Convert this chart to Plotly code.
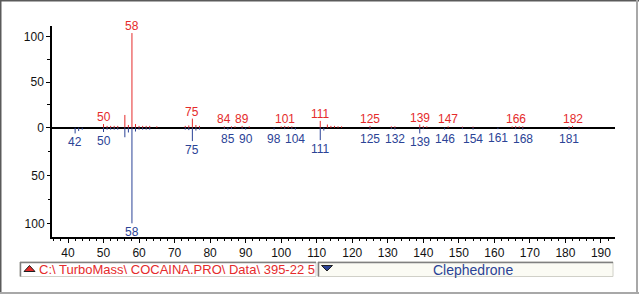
import plotly.graph_objects as go

# ---------------- data ----------------
# upper (reference/library hit, red) spectrum: m/z and relative intensity
red_mz = [50, 51, 52, 53, 54, 56, 57, 58, 59, 60, 61, 62, 63, 65,
          73, 74, 75, 76, 77, 84, 86, 87, 89, 91, 100, 101, 102, 103,
          111, 113, 114, 115, 116, 117, 125, 131, 132, 139, 140, 141,
          147, 151, 154, 165, 166, 167, 168, 181, 182]
red_int = [4, 2, 2, 2, 2, 14, 3, 104, 4, 2, 2, 2, 2, 1.5,
           2, 2.5, 10, 3, 2, 1.5, 1.5, 1.5, 2, 1.5, 1.5, 2, 1.5, 1.5,
           7.5, 3.5, 2, 2, 1.5, 1.5, 2, 1.5, 1.5, 3.5, 2, 1.5,
           1.5, 1.2, 1.2, 1.5, 2, 1.5, 1.5, 1.5, 2]

# lower (sample, blue) spectrum
blue_mz = [42, 43, 44, 50, 51, 52, 53, 54, 56, 57, 58, 59, 60, 61, 62, 63,
           73, 74, 75, 76, 77, 84, 85, 86, 89, 90, 98, 101, 103, 104,
           111, 112, 125, 131, 132, 139, 140, 146, 151, 154, 161, 166, 168, 181]
blue_int = [6, 3.5, 2, 4.5, 2, 2, 2, 2, 10, 5, 100, 4, 2, 2, 2, 2,
            2, 2.5, 14, 3, 2, 1.5, 2, 1.5, 1.5, 2, 2, 1.5, 1.5, 2,
            13, 3, 2, 1.5, 2, 6, 1.5, 2, 1.5, 2, 1.5, 1.5, 2, 2]

red_labels = [50, 58, 75, 84, 89, 101, 111, 125, 139, 147, 166, 182]
blue_labels = [42, 50, 58, 75, 85, 90, 98, 104, 111, 125, 132, 139, 146, 154, 161, 168, 181]

x_ticks = list(range(40, 200, 10))
y_up_ticks = [0, 50, 100]
y_up_minor = [25, 75]
y_dn_ticks = [50, 100]
y_dn_minor = [25, 75]

legend_file = "C:\\ TurboMass\\ COCAINA.PRO\\ Data\\ 395-22 5"
legend_name = "Clephedrone"

RED = "#e52b2b"
BLUE = "#2b4396"
FONT = "Liberation Sans, Arial, sans-serif"

# ---------------- geometry (px) ----------------
W, H = 639, 294
L, R, T, B = 52, 24, 26, 57
PW, PH = W - L - R, H - T - B


def px(x):
    return (x - L) / PW


def py(y):
    return (T + PH - y) / PH


def stems(mz, inten, sign):
    xs, ys = [], []
    for m, v in zip(mz, inten):
        xs += [m, m, None]
        ys += [0, sign * v, None]
    return xs, ys


fig = go.Figure()
rx, ry = stems(red_mz, red_int, 1)
bx, by = stems(blue_mz, blue_int, -1)
fig.add_trace(go.Scatter(x=rx, y=ry, mode="lines", line=dict(color=RED, width=1),
                         yaxis="y", hoverinfo="skip", showlegend=False))
fig.add_trace(go.Scatter(x=bx, y=by, mode="lines", line=dict(color=BLUE, width=1),
                         yaxis="y2", hoverinfo="skip", showlegend=False))

annotations = []
rlook = dict(zip(red_mz, red_int))
blook = dict(zip(blue_mz, blue_int))
for m in red_labels:
    annotations.append(dict(x=m, y=rlook.get(m, 0), xref="x", yref="y", text=str(m),
                            showarrow=False, yanchor="bottom", yshift=-2,
                            font=dict(family=FONT, size=12, color=RED)))
for m in blue_labels:
    annotations.append(dict(x=m, y=-blook.get(m, 0), xref="x", yref="y2", text=str(m),
                            showarrow=False, yanchor="top", yshift=0,
                            font=dict(family=FONT, size=12, color=BLUE)))

# legend texts
annotations.append(dict(x=px(37), y=py(269.5), xref="paper", yref="paper", text=legend_file,
                        showarrow=False, xanchor="left", yanchor="middle",
                        font=dict(family=FONT, size=13, color=RED)))
annotations.append(dict(x=px(472.5), y=py(269.5), xref="paper", yref="paper", text=legend_name,
                        showarrow=False, xanchor="center", yanchor="middle",
                        font=dict(family=FONT, size=14, color=BLUE)))

shapes = []
# legend boxes
for x0, x1, fill in [(20, 316, "#ffffff"), (318, 613, "#fbfbf4")]:
    shapes.append(dict(type="rect", xref="paper", yref="paper", x0=px(x0), x1=px(x1),
                       y0=py(276.5), y1=py(262), line=dict(color="#d0d0c8", width=1),
                       fillcolor=fill, layer="below"))
    shapes.append(dict(type="line", xref="paper", yref="paper", x0=px(x0), x1=px(x1),
                       y0=py(262.5), y1=py(262.5), line=dict(color="#808080", width=1.5)))
    shapes.append(dict(type="line", xref="paper", yref="paper", x0=px(x0 + 0.5), x1=px(x0 + 0.5),
                       y0=py(262), y1=py(276.5), line=dict(color="#808080", width=1.5)))


def tri(xa, xb, ytop, ybot, up):
    xm = (xa + xb) / 2
    if up:
        pts = [(xa, ybot), (xb, ybot), (xm, ytop)]
    else:
        pts = [(xa, ytop), (xb, ytop), (xm, ybot)]
    return "M " + " L ".join(f"{px(a):.5f},{py(b):.5f}" for a, b in pts) + " Z"


shapes.append(dict(type="path", xref="paper", yref="paper", path=tri(24, 35, 265.5, 271.5, True),
                   fillcolor=RED, line=dict(color="#202020", width=1)))
shapes.append(dict(type="path", xref="paper", yref="paper", path=tri(321.5, 332.5, 265.5, 271, False),
                   fillcolor=BLUE, line=dict(color="#202020", width=1)))

# window frame
shapes += [
    dict(type="line", xref="paper", yref="paper", x0=px(0.5), x1=px(0.5), y0=py(0), y1=py(294),
         line=dict(color="#5a5a5a", width=2)),
    dict(type="line", xref="paper", yref="paper", x0=px(0), x1=px(639), y0=py(0.5), y1=py(0.5),
         line=dict(color="#5a5a5a", width=2)),
    dict(type="line", xref="paper", yref="paper", x0=px(637), x1=px(637), y0=py(0), y1=py(294),
         line=dict(color="#a8a8a8", width=2)),
    dict(type="line", xref="paper", yref="paper", x0=px(0), x1=px(639), y0=py(293), y1=py(293),
         line=dict(color="#a8a8a8", width=2)),
]

# y-scales: upper 0.91 px/unit, lower 0.956 px/unit, zero at 127.7 px
zero_px = 127.7
up_s, dn_s = 0.91, 0.956
y1_range = [-(T + PH - zero_px) / up_s, (zero_px - T) / up_s]
y2_range = [-(T + PH - zero_px) / dn_s, (zero_px - T) / dn_s]

tickfont = dict(family=FONT, size=12, color="#111111")
fig.update_layout(
    width=W, height=H,
    margin=dict(l=L, r=R, t=T, b=B, pad=0),
    paper_bgcolor="white", plot_bgcolor="white",
    showlegend=False,
    xaxis=dict(range=[40 + (L - 68) / 3.553, 40 + (L + PW - 68) / 3.553],
               tickmode="array", tickvals=x_ticks, ticktext=[str(v) for v in x_ticks],
               ticks="outside", ticklen=4, tickwidth=1, tickcolor="black",
               minor=dict(dtick=2, tick0=0, ticks="outside", ticklen=2, tickcolor="black"),
               showline=True, linecolor="black", linewidth=1.5,
               showgrid=False, zeroline=False, tickfont=tickfont),
    yaxis=dict(range=y1_range, tickmode="array", tickvals=y_up_ticks,
               ticktext=[str(v) for v in y_up_ticks],
               ticks="outside", ticklen=4, tickwidth=1, tickcolor="black",
               minor=dict(tickvals=y_up_minor, ticks="outside", ticklen=3, tickcolor="black"),
               showline=True, linecolor="black", linewidth=1.5,
               showgrid=False, zeroline=True, zerolinecolor="black", zerolinewidth=1.5,
               tickfont=tickfont),
    yaxis2=dict(range=y2_range, overlaying="y", side="left", tickmode="array",
                tickvals=[-v for v in y_dn_ticks], ticktext=[str(v) for v in y_dn_ticks],
                ticks="outside", ticklen=4, tickwidth=1, tickcolor="black",
                minor=dict(tickvals=[-v for v in y_dn_minor], ticks="outside", ticklen=3,
                           tickcolor="black"),
                showline=False, showgrid=False, zeroline=False, tickfont=tickfont),
    annotations=annotations,
    shapes=shapes,
)

fig.write_html("out.html")
